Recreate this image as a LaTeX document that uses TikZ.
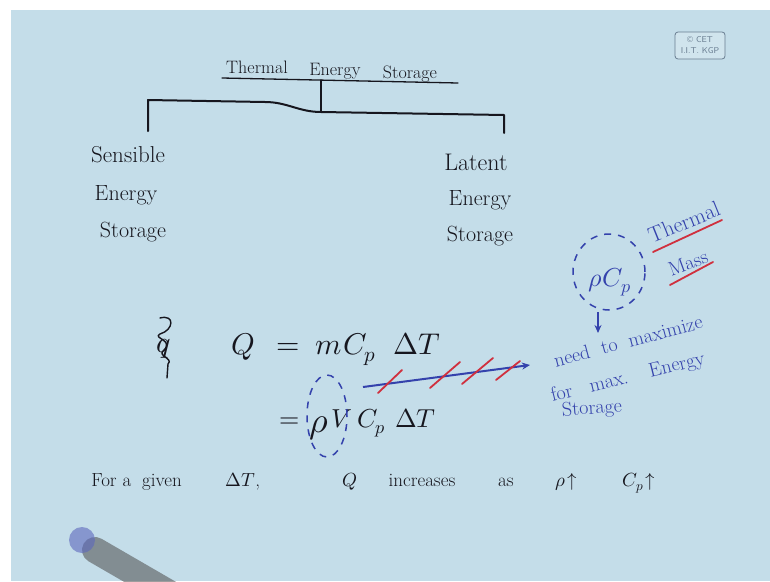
\documentclass[tikz,border=0pt]{standalone}
\usepackage{unicode-math}
\setmathfont{Latin Modern Math}
\usetikzlibrary{arrows.meta}
\definecolor{bg}{RGB}{196,221,233}
\definecolor{ink}{RGB}{22,22,30}
\definecolor{bink}{RGB}{52,66,172}
\definecolor{rink}{RGB}{208,48,62}
\definecolor{logoc}{RGB}{105,125,145}
\tikzset{
  hand/.style={text=ink, inner sep=0pt, anchor=base, font=\fontsize{22}{26}\selectfont},
  titletxt/.style={hand, font=\fontsize{18}{22}\selectfont},
  eqA/.style={hand, font=\fontsize{30}{34}\selectfont},
  eqB/.style={hand, font=\fontsize{26}{30}\selectfont},
  lowtxt/.style={hand, font=\fontsize{19}{23}\selectfont},
  btxt/.style={text=bink, inner sep=0pt, font=\fontsize{20}{24}\selectfont},
  inkline/.style={draw=ink, line width=1.6pt, line cap=round, line join=round},
  redline/.style={draw=rink, line width=1.8pt, line cap=round},
  bluedash/.style={draw=bink, line width=1.5pt, dash pattern=on 7pt off 7pt},
  bluearrow/.style={draw=bink, line width=2pt, -{Stealth[length=8pt,width=7pt]}}
}
\begin{document}
\begin{tikzpicture}[x=1pt,y=-1pt]
\useasboundingbox (0,0) rectangle (770,581);
\fill[white] (0,0) rectangle (770,581);
\fill[bg] (11,10) rectangle (770,581);

% logo
\draw[logoc, line width=0.8pt, rounded corners=3pt, fill=bg!80!white] (675,32) rectangle (725,59);
\node[text=logoc, inner sep=0pt, font=\sffamily\fontsize{8.5}{9}\selectfont] (logo1) at (700,40) {© CET};
\node[text=logoc, inner sep=0pt, font=\sffamily\fontsize{8.5}{9}\selectfont] (logo2) at (700,51) {I.I.T. KGP};

% title
\node[titletxt] (t1) at (257,73) {Thermal};
\node[titletxt] (t2) at (335,75) {Energy};
\node[titletxt] (t3) at (410,78) {Storage};
\draw[inkline, line width=1.3pt] (222,78) -- (458,83);

% tree
\coordinate (root) at (321,80);
\coordinate (mid) at (321,112);
\coordinate (lc) at (148,100);
\coordinate (rc) at (504,115);
\coordinate (ld) at (148,131);
\coordinate (rd) at (504,133);
\draw[inkline, line width=1.1pt] (root) -- (mid);
\draw[inkline, line width=2pt] (ld) -- (lc) -- (265,102) to[out=0,in=180] (mid) -- (rc) -- (rd);

% branches
\node[hand, font=\fontsize{23}{26}\selectfont] (s1) at (128,162) {Sensible};
\node[hand] (s2) at (126,200) {Energy};
\node[hand] (s3) at (133,237) {Storage};
\node[hand, font=\fontsize{24}{26}\selectfont] (l1) at (476,170) {Latent};
\node[hand] (l2) at (480,205) {Energy};
\node[hand] (l3) at (480,241) {Storage};

% crossed-out symbol
\node[eqA] (qx) at (164,352) {$q$};
\draw[inkline, line width=1.4pt] (160,318) .. controls (175,314) and (174,330) .. (160,334)
  .. controls (152,338) and (174,340) .. (164,350) .. controls (156,356) and (174,358) .. (168,364)
  -- (167,378);

% equation line 1
\node[eqA] (Q1) at (243,354) {$Q$};
\node[eqA] (eq1) at (288,354) {$=$};
\node[eqA] (m1) at (329,354) {$m$};
\node[eqA, anchor=base west] (C1) at (343,354) {$C_p$};
\node[eqA, anchor=base west] (D1) at (393,354) {$\Delta T$};

% equation line 2
\node[eqB] (eq2) at (290,427) {$=$};
\node[hand, font=\fontsize{36}{40}\selectfont] (rho2) at (319,432) {$\rho$};
\node[eqB] (V2) at (342,427) {$V$};
\node[eqB, anchor=base west] (C2) at (357,427) {$C_p$};
\node[eqB, anchor=base west] (D2) at (395,427) {$\Delta T$};
\draw[bluedash] (327,416) ellipse [x radius=20pt, y radius=41pt];

% bottom line
\node[lowtxt] (b1) at (104,486) {For};
\node[lowtxt] (b2) at (127,486) {a};
\node[lowtxt] (b3) at (162,486) {given};
\node[lowtxt] (b4) at (243,486) {$\Delta T$,};
\node[lowtxt] (b5) at (350,486) {$Q$};
\node[lowtxt] (b6) at (422,486) {increases};
\node[lowtxt] (b7) at (506,486) {as};
\node[lowtxt] (b8) at (566,486) {$\rho\!\uparrow$};
\node[lowtxt] (b9) at (639,486) {$C_p\!\uparrow$};

% blue annotations
\node[btxt, font=\fontsize{26}{30}\selectfont] (rc1) at (610,282) {$\rho C_p$};
\draw[bluedash] (609,272) ellipse [x radius=36pt, y radius=38pt];
\coordinate (rcA) at (598,312);
\coordinate (rcB) at (598,333);
\draw[bluearrow, line width=1.5pt] (rcA) -- (rcB);
\node[btxt, font=\fontsize{22}{26}\selectfont, rotate=22] (th) at (684,222) {Thermal};
\node[btxt, rotate=20] (ms) at (688,263) {Mass};
\draw[redline] (653,252) -- (722,220);
\draw[redline] (670,285) -- (713,262);
\node[btxt, rotate=15] (need) at (628,341) {need\hspace{0.6em}to\hspace{0.6em}maximize};
\node[btxt, rotate=14] (formax) at (628,378) {for\hspace{0.9em}max.\hspace{1.1em}Energy};
\node[btxt, rotate=4] (stor) at (592,409) {Storage};

% blue arrow with red slashes
\coordinate (arS) at (363,387);
\coordinate (arE) at (530,365);
\draw[bluearrow] (arS) -- (arE);
\draw[redline] (378,393) -- (402,370);
\draw[redline] (430,388) -- (460,362);
\draw[redline] (462,384) -- (493,358);
\draw[redline] (496,380) -- (520,361);

% pen
\begin{scope}
\clip (0,0) rectangle (770,581);
\draw[black!70, opacity=0.55, line width=26pt, line cap=round] (95,550) -- (190,605);
\fill[bink!80, opacity=0.6] (82,540) circle (13pt);
\end{scope}
\end{tikzpicture}
\end{document}
